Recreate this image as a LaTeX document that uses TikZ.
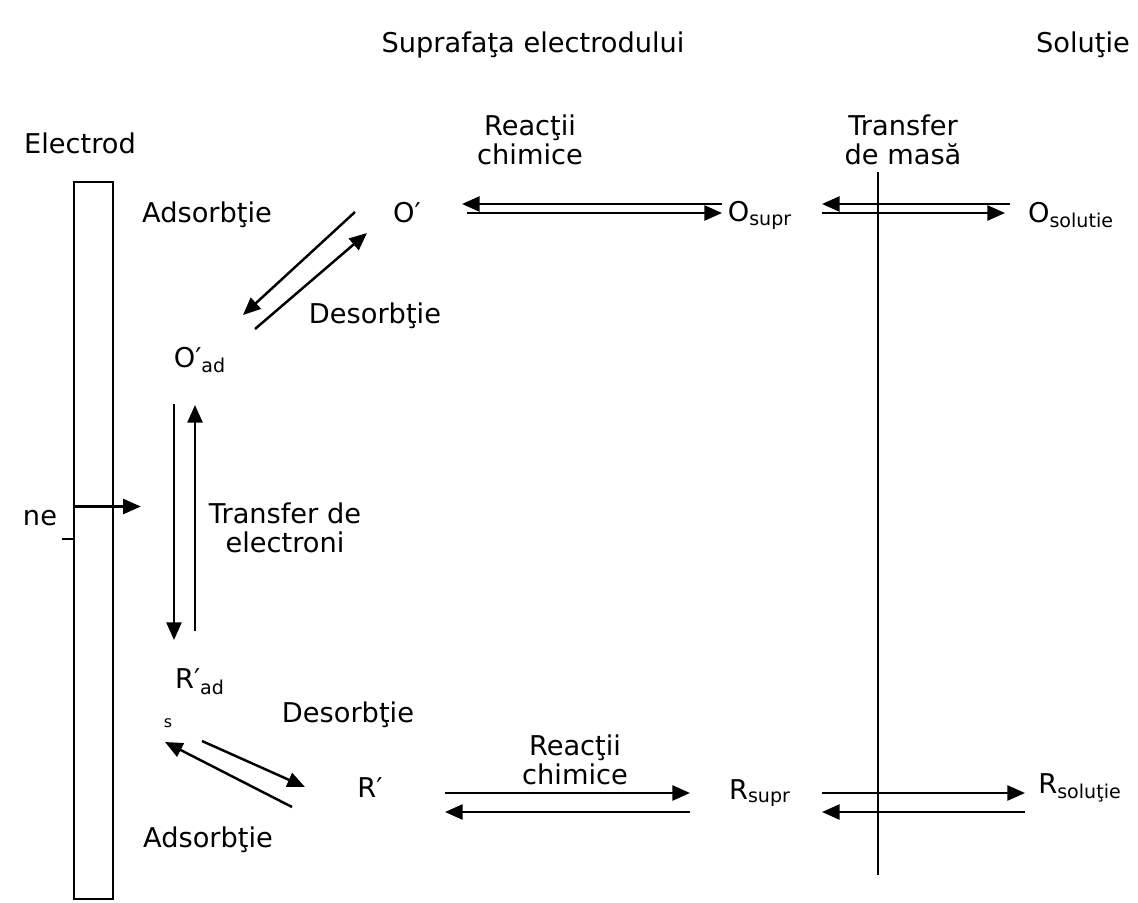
\documentclass[tikz,border=0pt]{standalone}
\usepackage{fontspec}
\setmainfont{DejaVu Sans}
\usetikzlibrary{arrows.meta,calc}

\begin{document}
\begin{tikzpicture}[x=0.02cm, y=-0.02cm,
    every node/.style={font=\fontsize{15.5}{16.5}\selectfont, inner sep=0pt},
    txt/.style={align=center},
    arr/.style={-{Triangle[length=10pt,width=8.5pt]}, line width=1.4pt}]

    \useasboundingbox (0,0) rectangle (1138,902);

    % Titles
    \node (surf) at (533,45) {Suprafaţa electrodului};
    \node (sol) at (1083,45) {Soluţie};
    \node (electrod) at (80,143) {Electrod};
    \node[txt] (chem1) at (530,140) {Reacţii\\chimice};
    \node[txt] (mass) at (903,140) {Transfer\\de masă};

    % Electrode
    \node[draw, line width=1.4pt, minimum width=39*0.02cm, minimum height=717*0.02cm]
        (electrode) at (93.5,540.5) {};
    \node (ne) at (40,518) {ne};
    \draw[arr] ($(electrode.west)+(0,-34)$) -- ++(68,0);
    \draw[line width=1.4pt] ($(electrode.west)+(-11,-1.5)$) -- ($(electrode.west)+(0,-1.5)$);

    % Species
    \node (Op) at (407,213) {O′};
    \node (Osupr) at (760,215) {O\textsubscript{supr}};
    \node (Osol) at (1071,215) {O\textsubscript{solutie}};
    \node (Oad) at (200,360) {O′\textsubscript{ad}};
    \node (Rad) at (200,682) {R′\textsubscript{ad}};
    \node[font=\fontsize{9}{10}\selectfont] (s) at (168,723) {s};
    \node (Rp) at (370,788) {R′};
    \node (Rsupr) at (760,793) {R\textsubscript{supr}};
    \node (Rsol) at (1080,788) {R\textsubscript{soluţie}};

    % Labels
    \node (ads1) at (207,215) {Adsorbţie};
    \node (des1) at (375,316) {Desorbţie};
    \node[txt] (etrans) at (285,528) {Transfer de\\electroni};
    \node (des2) at (348,715) {Desorbţie};
    \node (ads2) at (208,840) {Adsorbţie};
    \node[txt] (chem2) at (575,760) {Reacţii\\chimice};

    % Interface
    \draw[line width=1.4pt] (878,172) -- (878,875);

    % O side
    \draw[arr] ($(Osupr)+(-38,-11)$) -- ($(Op)+(55,-9)$);
    \draw[arr] ($(Op)+(60,0)$) -- ($(Osupr)+(-38,-2)$);
    \draw[arr] ($(Osol)+(-61,-11)$) -- ($(Osupr)+(62,-11)$);
    \draw[arr] ($(Osupr)+(62,-2)$) -- ($(Osol)+(-66,-2)$);
    \draw[arr] ($(Op)+(-52,-1)$) -- ($(Oad)+(43,-45)$);
    \draw[arr] ($(Oad)+(55,-31)$) -- ($(Op)+(-40,20)$);

    % Electron transfer
    \draw[arr] ($(Oad)+(-26,44)$) -- ($(Rad)+(-26,-42)$);
    \draw[arr] ($(Rad)+(-5,-51)$) -- ($(Oad)+(-5,45)$);

    % R side
    \draw[arr] ($(Rp)+(-78,19)$) -- ($(Rad)+(-35,60)$);
    \draw[arr] ($(Rad)+(2,59)$) -- ($(Rp)+(-65,-1)$);
    \draw[arr] ($(Rp)+(75,5)$) -- ($(Rsupr)+(-70,0)$);
    \draw[arr] ($(Rsupr)+(-70,19)$) -- ($(Rp)+(75,24)$);
    \draw[arr] ($(Rsupr)+(62,0)$) -- ($(Rsol)+(-55,5)$);
    \draw[arr] ($(Rsol)+(-55,24)$) -- ($(Rsupr)+(62,19)$);

\end{tikzpicture}
\end{document}
